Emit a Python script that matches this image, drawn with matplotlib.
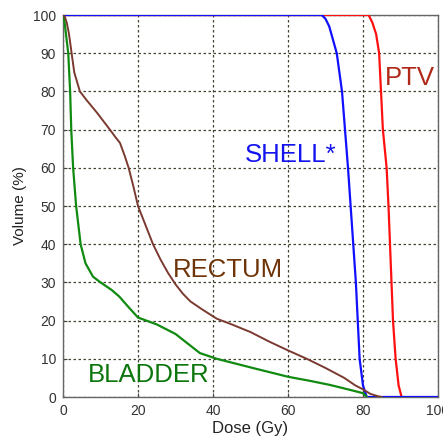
import matplotlib
matplotlib.use("Agg")
import matplotlib.pyplot as plt

plt.rcParams['font.family'] = ['Liberation Sans', 'DejaVu Sans']

# dose (Gy) / volume (%) points
ptv_dose = [0, 81.5, 82.5, 83.5, 84.3, 84.8, 85.3, 86.3, 86.8, 87.2, 87.6, 88.0, 88.7, 89.5, 90.3]
ptv_vol = [100, 100, 98, 95, 90, 80, 70, 60, 50, 40, 30, 20, 10, 3, 0]

shell_dose = [0, 69, 70, 71, 73, 74.4, 75.2, 76, 76.7, 77.4, 78.1, 78.6, 79.1, 80, 81, 100]
shell_vol = [100, 100, 99, 97, 90, 80, 70, 60, 50, 40, 30, 20, 10, 3, 0, 0]

rectum_dose = [0, 0.5, 1, 1.6, 2.3, 3, 4.5, 6.3, 9, 12.5, 14, 15.2, 16.5, 17.5, 18.8, 20,
               22, 24, 26, 28, 30, 32, 34, 37, 41, 45, 50, 55, 60, 65, 70, 75, 78, 80,
               82, 84, 85]
rectum_vol = [100, 99.5, 98, 95, 90, 85, 80, 77.7, 74.5, 70, 68, 66.5, 63, 60, 55, 50,
              45, 40, 36, 32.5, 29.5, 27, 25, 23, 20.5, 19, 17, 14.5, 12.2, 10, 7.6, 5, 3, 2,
              0.8, 0.2, 0]

bladder_dose = [0, 0.3, 1.4, 1.9, 2.2, 2.7, 3.5, 4.7, 6, 8, 10, 13, 15, 17.5, 20, 25, 30,
                36.5, 41, 45, 51, 60, 66, 71, 76, 80, 81]
bladder_vol = [100, 99, 90, 80, 70, 60, 50, 40, 35, 31.5, 30, 28, 26.3, 23.5, 20.8, 19, 16.5,
               11.5, 10, 9, 7.5, 5.3, 4.2, 3.2, 2, 1, 0]

x_ticks = [0, 20, 40, 60, 80, 100]
y_ticks = list(range(0, 101, 10))

fig = plt.figure(figsize=(4.43, 4.36), dpi=100)
ax = fig.add_axes([63 / 443, 1 - 397 / 436, 375 / 443, 382 / 436])

ax.plot(ptv_dose, ptv_vol, color='#ff1010', lw=1.6, zorder=3)
ax.plot(shell_dose, shell_vol, color='#1010ff', lw=1.6, zorder=4)
ax.plot(bladder_dose, bladder_vol, color='#108a10', lw=1.6, zorder=5)
ax.plot(rectum_dose, rectum_vol, color='#7a3a30', lw=1.4, zorder=6)

ax.text(85.9, 81.7, 'PTV', color='#b02818', fontsize=18.5)
ax.text(48.5, 61.4, 'SHELL*', color='#1414ee', fontsize=18.5)
ax.text(29.3, 31.5, 'RECTUM', color='#6e3408', fontsize=18.5)
ax.text(6.7, 3.9, 'BLADDER', color='#0c760c', fontsize=18.5)

ax.set_xlim(0, 100)
ax.set_ylim(0, 100)
ax.set_xticks(x_ticks)
ax.set_yticks(y_ticks)
ax.tick_params(direction='in', length=3, colors='#444444', labelsize=10, labelcolor='#333333', pad=5)
ax.grid(True, color='#444433', linestyle=(0, (2, 2)), lw=0.9)
for s in ax.spines.values():
    s.set_color('#666666')
    s.set_linewidth(1)

ax.set_xlabel('Dose (Gy)', fontsize=12, color='#222222', labelpad=2)
ax.set_ylabel('Volume (%)', fontsize=11, color='#222222', labelpad=4)

fig.savefig('out.png', dpi=100)
